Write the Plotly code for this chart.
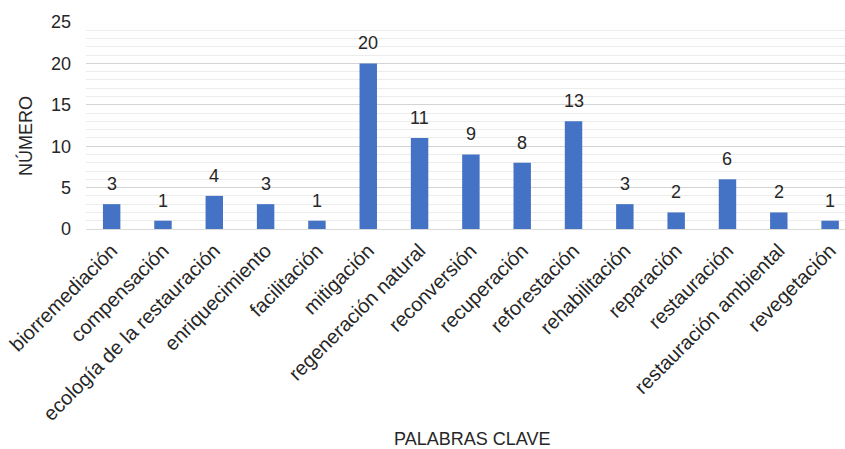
import plotly.graph_objects as go

# Keyword frequencies
categories = [
    "biorremediación", "compensación", "ecología de la restauración",
    "enriquecimiento", "facilitación", "mitigación", "regeneración natural",
    "reconversión", "recuperación", "reforestación", "rehabilitación",
    "reparación", "restauración", "restauración ambiental", "revegetación",
]
counts = [3, 1, 4, 3, 1, 20, 11, 9, 8, 13, 3, 2, 6, 2, 1]
y_ticks = [0, 5, 10, 15, 20, 25]

FONT = "Liberation Sans, Arial, sans-serif"
TEXT = "#262626"
BAR = "#4472C4"

fig = go.Figure(
    go.Bar(
        x=categories,
        y=counts,
        marker=dict(color=BAR, line=dict(width=0)),
        width=0.34,
        hoverinfo="x+y",
    )
)

# value labels above each bar
for c, v in zip(categories, counts):
    fig.add_annotation(
        x=c, y=v, text=str(v), showarrow=False,
        yanchor="middle", yshift=20,
        font=dict(family=FONT, size=18, color=TEXT),
    )

# axis titles
fig.add_annotation(
    xref="paper", yref="paper", x=-0.0804, y=0.449, text="NÚMERO",
    textangle=-90, showarrow=False, xanchor="center", yanchor="middle",
    font=dict(family=FONT, size=18, color=TEXT),
)
fig.add_annotation(
    xref="paper", yref="paper", x=0.508, y=-1.015, text="PALABRAS CLAVE",
    showarrow=False, xanchor="center", yanchor="middle",
    font=dict(family=FONT, size=18, color=TEXT),
)

fig.update_layout(
    width=845,
    height=449,
    margin=dict(l=86, r=0, t=22, b=220),
    paper_bgcolor="white",
    plot_bgcolor="white",
    showlegend=False,
    font=dict(family=FONT, size=18, color=TEXT),
    xaxis=dict(
        type="category",
        range=[-0.5, 14.29],
        tickangle=-45,
        showgrid=False,
        showline=True,
        linecolor="#d9d9d9",
        linewidth=1,
        ticks="",
        ticklabelstandoff=1,
        tickfont=dict(family=FONT, size=20, color=TEXT),
    ),
    yaxis=dict(
        range=[0, 25],
        tickvals=y_ticks,
        showgrid=True,
        gridcolor="#d4d4d4",
        gridwidth=1,
        zeroline=False,
        showline=False,
        ticks="",
        ticklabelstandoff=14,
        tickfont=dict(family=FONT, size=18, color=TEXT),
        minor=dict(dtick=1, showgrid=True, gridcolor="#ececec", gridwidth=1),
    ),
)

fig.write_html("out.html")
